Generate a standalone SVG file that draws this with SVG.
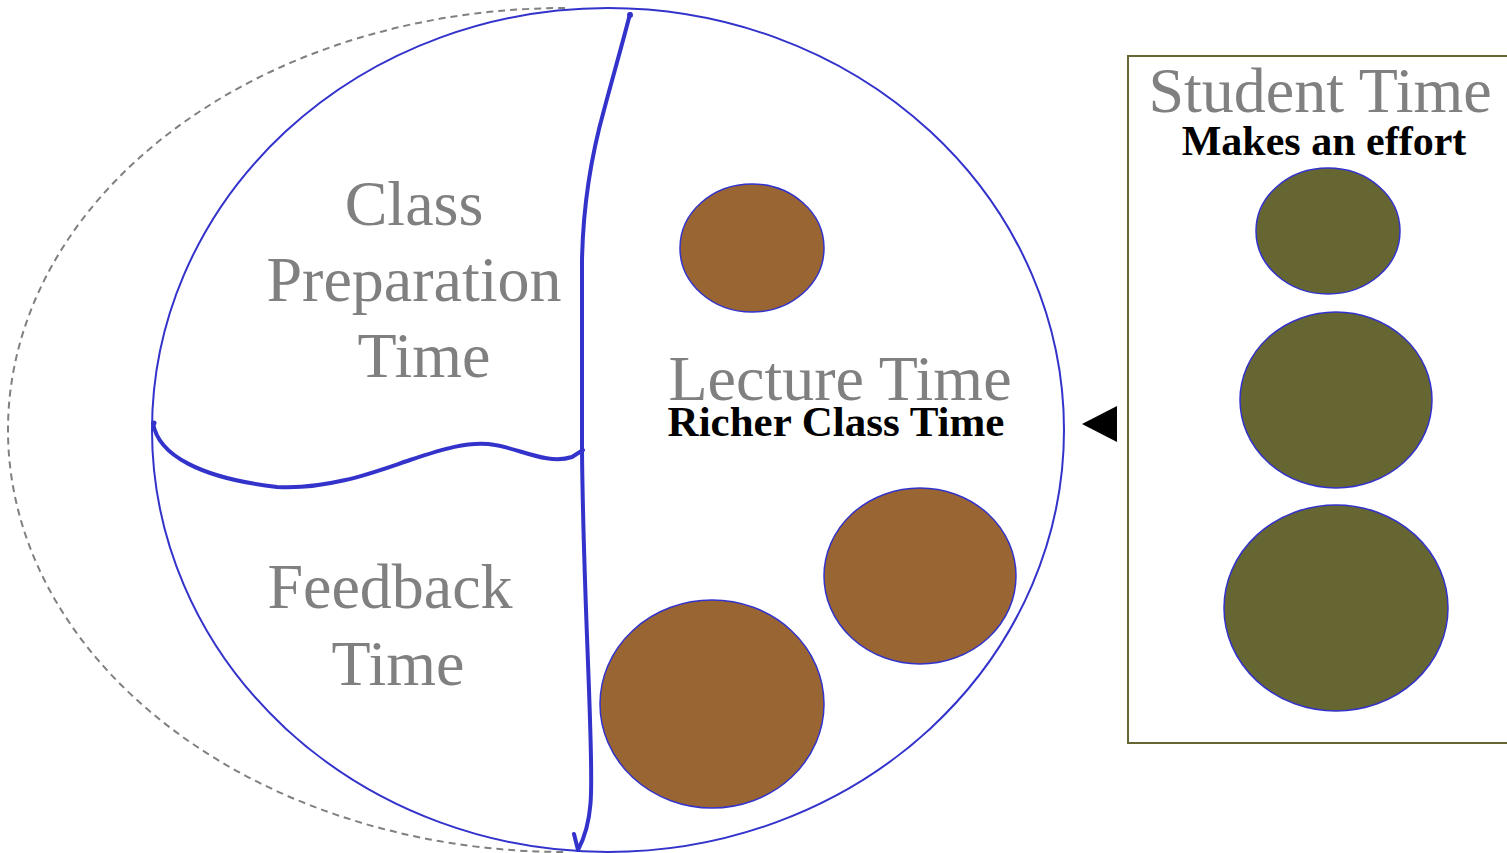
<svg xmlns="http://www.w3.org/2000/svg" width="1507" height="853" viewBox="0 0 1507 853">
<style>
.big{font-family:"Liberation Serif",serif;font-size:64px;fill:#808080;text-anchor:middle}
.bold{font-family:"Liberation Serif",serif;font-size:42px;font-weight:bold;fill:#000;text-anchor:middle}
.brown{fill:#996633;stroke:#3333cc;stroke-width:1.5}
.olive{fill:#666633;stroke:#3333cc;stroke-width:1.5}
.div{fill:none;stroke:#3333cc;stroke-width:4;stroke-linecap:round;stroke-linejoin:round}
</style>
<rect width="1507" height="853" fill="#fff"/>
<g id="outer-dashed">
<path d="M 565 8 A 557 422 0 0 0 565 852" fill="none" stroke="#808080" stroke-width="2" stroke-dasharray="7,5"/>
</g>
<g id="main-circle">
<ellipse cx="608" cy="430" rx="456" ry="422" fill="#fff" stroke="#3333cc" stroke-width="2"/>
</g>
<g id="connectors">
<path class="div" d="M 630 14 C 622 45 612 80 604 110 C 590 160 583 210 582 260 L 582 450 C 583 560 588 650 590 720 C 592 790 594 820 578 850 M 578 850 L 574 834"/>
<circle cx="630" cy="15" r="3" fill="#3333cc"/>
<path class="div" d="M 153 423 C 158 455 200 478 277 487 C 330 490 380 470 410 460 C 440 450 470 440 495 445 C 520 449 548 465 572 457 L 583 450"/>
<circle cx="154" cy="423" r="2.5" fill="#3333cc"/>
<polygon points="1082,424 1117,406 1117,442" fill="#000"/>
</g>
<g id="class-prep">
<text class="big" x="414" y="225">Class</text>
<text class="big" x="414" y="301">Preparation</text>
<text class="big" x="424" y="377">Time</text>
</g>
<g id="feedback">
<text class="big" x="390" y="608">Feedback</text>
<text class="big" x="398" y="685">Time</text>
</g>
<g id="lecture">
<text class="big" x="840" y="400">Lecture Time</text>
<text class="bold" x="836" y="436" style="font-size:43px">Richer Class Time</text>
<ellipse class="brown" cx="752" cy="248" rx="72" ry="64"/>
<ellipse class="brown" cx="920" cy="576" rx="96" ry="88"/>
<ellipse class="brown" cx="712" cy="704" rx="112" ry="104"/>
</g>
<g id="student">
<rect x="1128" y="56" width="390" height="687" fill="none" stroke="#666633" stroke-width="2"/>
<text class="big" x="1320" y="112">Student Time</text>
<text class="bold" x="1324" y="155">Makes an effort</text>
<ellipse class="olive" cx="1328" cy="231" rx="72" ry="63"/>
<ellipse class="olive" cx="1336" cy="400" rx="96" ry="88"/>
<ellipse class="olive" cx="1336" cy="608" rx="112" ry="103"/>
</g>
</svg>
